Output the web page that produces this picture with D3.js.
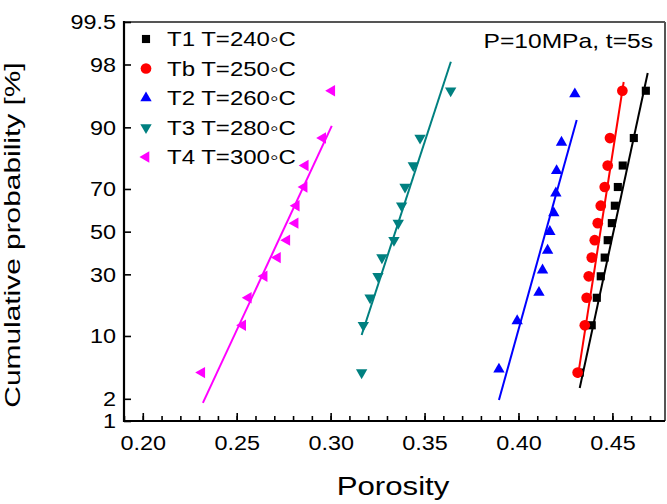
<!DOCTYPE html>
<html><head><meta charset="utf-8">
<script src="https://cdn.jsdelivr.net/npm/d3@7"></script>
<style>body{margin:0;background:#fff} svg{display:block;font-family:"Liberation Sans",Arial,sans-serif}</style>
</head><body><svg id="c" width="667" height="504"></svg>
<script>
// ---- data ----
const seriesNames = ["T1 T=240\u25E6C", "Tb T=250\u25E6C", "T2 T=260\u25E6C", "T3 T=280\u25E6C", "T4 T=300\u25E6C"];
const seriesColors = ["#000000", "#ff0000", "#0000ff", "#008080", "#ff00ff"];
const seriesSymbols = ["square", "circle", "up", "down", "left"];
const prob12 = [4.17, 12.5, 20.83, 29.17, 37.5, 45.83, 54.17, 62.5, 70.83, 79.17, 87.5, 95.83];
const prob11 = [4.55, 13.64, 22.73, 31.82, 40.91, 50, 59.09, 68.18, 77.27, 86.36, 95.45];
const t1Porosity = [0.4326, 0.4390, 0.4417, 0.4438, 0.4459, 0.4475, 0.4497, 0.4513, 0.4529, 0.4555, 0.4614, 0.4678];
const tbPorosity = [0.4315, 0.4353, 0.4363, 0.4374, 0.4390, 0.4406, 0.4422, 0.4438, 0.4459, 0.4475, 0.4487, 0.4553];
const t2Porosity = [0.3896, 0.3993, 0.4109, 0.4128, 0.4155, 0.4167, 0.4188, 0.4199, 0.4203, 0.4229, 0.4300];
const t3Porosity = [0.3165, 0.3174, 0.3210, 0.3252, 0.3273, 0.3337, 0.3360, 0.3378, 0.3396, 0.3440, 0.3476, 0.3639];
const t4Porosity = [0.2314, 0.2532, 0.2562, 0.2646, 0.2717, 0.2767, 0.2811, 0.2817, 0.2859, 0.2865, 0.2958, 0.3006];
// linear fit lines (start/end porosity and cumulative probability %)
const fitStartX = [0.4326, 0.4315, 0.3896, 0.3165, 0.2320];
const fitStartP = [2.74, 3.62, 1.93, 10.2, 1.77];
const fitEndX = [0.4688, 0.4560, 0.4310, 0.3640, 0.3006];
const fitEndP = [97.44, 96.7, 91.5, 98.16, 90.3];
const yTickValues = [1, 2, 10, 30, 50, 70, 90, 98, 99.5];
const xTickValues = [0.20, 0.25, 0.30, 0.35, 0.40, 0.45];
const xMinorTicks = [0.19,0.20,0.21,0.22,0.23,0.24,0.25,0.26,0.27,0.28,0.29,0.30,0.31,0.32,0.33,0.34,0.35,0.36,0.37,0.38,0.39,0.40,0.41,0.42,0.43,0.44,0.45,0.46,0.47];
const xLabel = "Porosity";
const yLabel = "Cumulative probability [%]";
const note = "P=10MPa, t=5s";

const seriesX = [t1Porosity, tbPorosity, t2Porosity, t3Porosity, t4Porosity];
const seriesP = [prob12, prob12, prob11, prob12, prob12];

// inverse normal CDF (Acklam)
function probit(p) {
  const a = [-3.969683028665376e+01, 2.209460984245205e+02, -2.759285104469687e+02, 1.383577518672690e+02, -3.066479806614716e+01, 2.506628277459239e+00];
  const b = [-5.447609879822406e+01, 1.615858368580409e+02, -1.556989798598866e+02, 6.680131188771972e+01, -1.328068155288572e+01];
  const c = [-7.784894002430293e-03, -3.223964580411365e-01, -2.400758277161838e+00, -2.549732539343734e+00, 4.374664141464968e+00, 2.938163982698783e+00];
  const d = [7.784695709041462e-03, 3.224671290700398e-01, 2.445134137142996e+00, 3.754408661907416e+00];
  const pl = 0.02425, ph = 1 - pl;
  let q, r;
  if (p < pl) { q = Math.sqrt(-2 * Math.log(p)); return (((((c[0]*q+c[1])*q+c[2])*q+c[3])*q+c[4])*q+c[5]) / ((((d[0]*q+d[1])*q+d[2])*q+d[3])*q+1); }
  if (p <= ph) { q = p - 0.5; r = q*q; return (((((a[0]*r+a[1])*r+a[2])*r+a[3])*r+a[4])*r+a[5])*q / (((((b[0]*r+b[1])*r+b[2])*r+b[3])*r+b[4])*r+1); }
  q = Math.sqrt(-2 * Math.log(1 - p)); return -(((((c[0]*q+c[1])*q+c[2])*q+c[3])*q+c[4])*q+c[5]) / ((((d[0]*q+d[1])*q+d[2])*q+d[3])*q+1);
}

// ---- layout ----
const L = 124, R = 665, T = 22, B = 421;
const svg = d3.select("#c");
const x = d3.scaleLinear().domain([0.19, 0.478]).range([L, R]);
const zScale = d3.scaleLinear().domain([probit(0.01), probit(0.995)]).range([B, T]);
const y = p => zScale(probit(p / 100));
const SX = 1.2; // horizontal text stretch

// frame
svg.append("line").attr("x1", L).attr("x2", R).attr("y1", T).attr("y2", T).attr("stroke", "#555").attr("stroke-width", 2);
svg.append("line").attr("x1", R).attr("x2", R).attr("y1", T).attr("y2", B).attr("stroke", "#555").attr("stroke-width", 2);

// x axis minor + major
const gxMinor = svg.append("g").attr("transform", `translate(0,${B})`)
  .call(d3.axisBottom(x).tickValues(xMinorTicks).tickSize(-5).tickFormat(""));
const gx = svg.append("g").attr("transform", `translate(0,${B})`)
  .call(d3.axisBottom(x).tickValues(xTickValues).tickSize(-8).tickPadding(12).tickFormat(d3.format(".2f")));
[gxMinor, gx].forEach(g => { g.select(".domain").remove(); g.selectAll("line").attr("stroke", "#000").attr("stroke-width", 1.6); });
gx.selectAll("text").attr("font-size", 19.5).attr("fill", "#000").attr("font-family", "Liberation Sans, Arial")
  .attr("y", 0).attr("dy", 0)
  .attr("transform", `translate(0,29) scale(${SX},1)`);

// y axis
const gy = svg.append("g").attr("transform", `translate(${L},0)`)
  .call(d3.axisLeft(zScale).tickValues(yTickValues.map(v => probit(v / 100))).tickSize(-7).tickPadding(8)
    .tickFormat((d, i) => String(yTickValues[i])));
gy.select(".domain").remove();
gy.selectAll("line").attr("stroke", "#000").attr("stroke-width", 1.6);
gy.selectAll("text").attr("font-size", 19.5).attr("fill", "#000").attr("font-family", "Liberation Sans, Arial")
  .attr("x", 0).attr("dy", "0.35em").attr("transform", `translate(-8,0) scale(${SX},1)`);

// left & bottom axis lines
svg.append("line").attr("x1", L).attr("x2", L).attr("y1", T - 1).attr("y2", B + 1).attr("stroke", "#000").attr("stroke-width", 2.2);
svg.append("line").attr("x1", L - 1).attr("x2", R).attr("y1", B).attr("y2", B).attr("stroke", "#000").attr("stroke-width", 2.2);

// symbols
function symPath(kind) {
  if (kind === "square") return d3.symbol(d3.symbolSquare, 66)();
  if (kind === "circle") return d3.symbol(d3.symbolCircle, 90)();
  return d3.symbol(d3.symbolTriangle, 56)();
}
function symRot(kind) { return kind === "down" ? 180 : kind === "left" ? -90 : 0; }

// fit lines
const line = d3.line().x(d => x(d[0])).y(d => y(d[1]));
seriesNames.forEach((n, i) => {
  svg.append("path").attr("d", line([[fitStartX[i], fitStartP[i]], [fitEndX[i], fitEndP[i]]]))
    .attr("stroke", seriesColors[i]).attr("stroke-width", 2).attr("fill", "none");
});
// points
seriesNames.forEach((n, i) => {
  const pts = seriesX[i].map((v, j) => [v, seriesP[i][j]]);
  svg.append("g").selectAll("path").data(pts).join("path")
    .attr("d", symPath(seriesSymbols[i]))
    .attr("transform", d => `translate(${x(d[0])},${y(d[1])}) rotate(${symRot(seriesSymbols[i])})`)
    .attr("fill", seriesColors[i]);
});

// legend
const lg = svg.append("g");
seriesNames.forEach((n, i) => {
  const ry = 39 + i * 29.5;
  lg.append("path").attr("d", symPath(seriesSymbols[i]))
    .attr("transform", `translate(146,${ry}) rotate(${symRot(seriesSymbols[i])})`).attr("fill", seriesColors[i]);
  lg.append("text").text(n).attr("font-size", 20).attr("fill", "#000")
    .attr("transform", `translate(167,${ry + 7}) scale(${SX},1)`);
});

// note
svg.append("text").text(note).attr("font-size", 20.5).attr("text-anchor", "end")
  .attr("transform", `translate(653,48) scale(${SX},1)`);

// axis titles
svg.append("text").text(xLabel).attr("font-size", 26).attr("text-anchor", "middle")
  .attr("transform", `translate(393,495) scale(${SX},1)`);
svg.append("text").text(yLabel).attr("font-size", 21.5).attr("text-anchor", "middle")
  .attr("transform", `translate(20,235) rotate(-90) scale(1.39,1)`);
</script></body></html>
